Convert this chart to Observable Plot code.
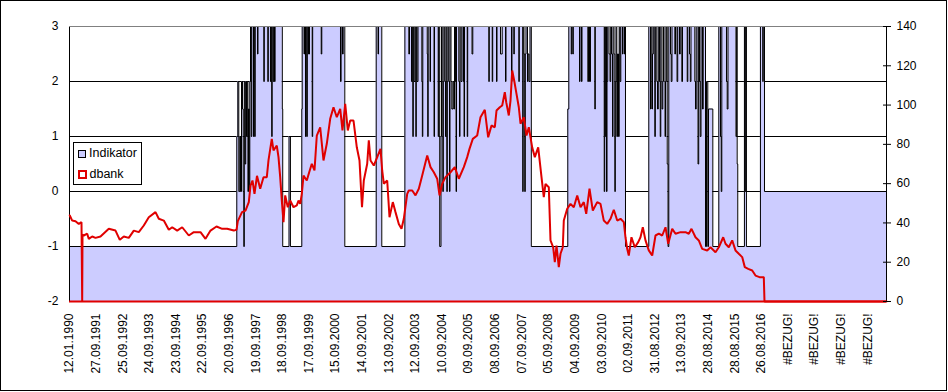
<!DOCTYPE html>
<html>
<head>
<meta charset="utf-8">
<script src="https://cdn.jsdelivr.net/npm/d3@7"></script>
<script src="https://cdn.jsdelivr.net/npm/@observablehq/plot@0.6"></script>
<style>
  body { margin: 0; background: #fff; }
  #wrap { position: relative; width: 948px; height: 392px; overflow: hidden; font-family: "Liberation Sans", Arial, sans-serif; }
  #border { position: absolute; left: 0; top: 0; width: 947px; height: 391px; border: 1px solid #000; box-sizing: border-box; pointer-events: none; }
  #legend { position: absolute; left: 73px; top: 142px; width: 69px; height: 43px; border: 1px solid #000; box-sizing: border-box; background: #fff; font-size: 12.5px; line-height: 1; color: #000; }
  #legend .sw1 { position: absolute; left: 4px; top: 7px; width: 8px; height: 8px; box-sizing: border-box; border: 1px solid #000; background: #ccccff; }
  #legend .sw2 { position: absolute; left: 4px; top: 27px; width: 9px; height: 9px; box-sizing: border-box; border: 2px solid #e00000; background: #fff; }
  #legend .t1 { position: absolute; left: 15px; top: 4px; white-space: nowrap; }
  #legend .t2 { position: absolute; left: 15.5px; top: 25px; white-space: nowrap; }
</style>
</head>
<body>
<div id="wrap">
  <div id="chart"></div>
  <div id="legend"></div>
  <div id="border"></div>
</div>
<script>
// ---- data ----
const xLabels = ["12.01.1990","27.09.1991","25.09.1992","24.09.1993","23.09.1994","22.09.1995","20.09.1996",
  "19.09.1997","18.09.1998","17.09.1999","15.09.2000","14.09.2001","13.09.2002","12.09.2003","10.09.2004",
  "09.09.2005","08.09.2006","07.09.2007","05.09.2008","04.09.2009","03.09.2010","02.09.2011","31.08.2012",
  "13.09.2013","28.08.2014","28.08.2015","26.08.2016","#BEZUG!","#BEZUG!","#BEZUG!","#BEZUG!"];
const xEnd = 30.703; // position of the last category (label units)
const leftTicks = [-2, -1, 0, 1, 2, 3];
const rightTicks = [0, 20, 40, 60, 80, 100, 120, 140];
const seriesNames = ["Indikator", "dbank"];

// Indikator: [position in label units, value] (step series)
const indicatorSteps = [
  [0,-1],
  [6.287,1],[6.325,2],[6.362,0],[6.400,1],[6.426,0],[6.464,2],[6.501,1.5],[6.528,0],[6.550,-1],[6.569,2],[6.595,0.5],[6.622,2],[6.652,1],[6.678,2],[6.704,0],[6.727,1.5],[6.753,0],[6.776,2],[6.802,3],[6.828,1],[6.851,3],[6.915,1],[6.934,3],[6.960,1],[6.979,3],
  [7.065,2.5],[7.084,3],[7.302,2],[7.320,3],[7.452,2],[7.471,3],[7.553,2],[7.572,3],[7.598,1],[7.617,3],[7.655,2],[7.677,3],[7.704,2],[7.727,3],
  [7.998,1.5],[8.013,-1],[8.250,1],[8.303,-1],[8.730,1.5],[8.745,3],
  [8.813,2.5],[8.832,3],[8.869,1],[8.888,3],[8.918,1],[8.937,3],[8.982,2.5],[9.019,3],[9.120,1],[9.139,3],[9.459,2.5],[9.481,3],[10.184,2],[10.207,3],[10.259,2.5],[10.285,3],
  [10.346,-1],[11.526,3],[11.594,2.5],[11.613,3],[11.736,-1],
  [12.604,3],[12.751,2.5],[12.777,3],[12.852,2],[12.879,3],[12.901,1],[12.920,3],[12.946,2],[12.984,3],[13.014,1],[13.033,3],[13.059,2],[13.097,3],[13.240,2],[13.259,1],[13.277,3],[13.443,2.5],[13.461,1],[13.480,3],[13.548,2],[13.567,3],[13.698,1],[13.717,3],[13.855,1],[13.874,3],[13.912,-1],[13.961,1],[13.980,3],
  [14.029,0],[14.048,2],[14.074,3],[14.104,2],[14.130,1],[14.149,3],[14.179,0],[14.198,2],[14.224,3],[14.254,2],[14.281,0],[14.299,3],[14.337,2],[14.367,1.5],[14.412,2],[14.442,1.5],[14.469,3],[14.507,2],[14.526,0],[14.544,3],[14.630,2],[14.657,1],[14.675,3],[14.713,2],[14.751,3],[14.807,2],[14.826,1],[14.845,3],[14.946,1],[14.964,3],
  [15.126,2.5],[15.156,3],[15.757,2],[15.776,3],[15.885,2],[15.904,3],[16.047,2],[16.066,3],[16.197,2.5],[16.261,3],[16.385,2],[16.404,3],[16.610,2],[16.629,3],[16.697,2.5],[16.716,3],[16.885,2],[16.904,3],
  [17.031,0],[17.050,3],[17.080,2.5],[17.107,0],[17.129,2.5],[17.156,3],[17.212,2],[17.231,2.5],[17.268,2],[17.306,3],
  [17.355,-1],
  [18.726,1.5],[18.764,3],[18.854,2.5],[18.873,3],[18.914,2.5],[18.933,3],[19.166,2],[19.185,3],[19.241,2],[19.260,3],[19.478,2],[19.504,3],[19.542,2],[19.579,3],[19.741,1.5],[19.760,3],
  [20.094,0],[20.113,3],[20.136,1],[20.155,3],[20.181,0],[20.200,2],[20.226,3],[20.275,2.5],[20.312,2],[20.339,3],[20.369,2.5],[20.407,1],[20.425,3],[20.463,2.5],[20.493,0],[20.512,2],[20.538,3],[20.568,1],[20.595,2.5],[20.632,1],[20.658,3],[20.688,2],[20.718,3],[20.782,2.5],[20.801,3],[20.857,2.5],[20.876,3],
  [20.894,-1],
  [21.770,3],[21.834,1.5],[21.853,3],[21.891,1.5],[21.909,2.5],[21.939,3],[21.996,1],[22.015,3],[22.071,2],[22.097,1.5],[22.127,3],[22.172,2],[22.199,1],[22.221,3],[22.266,1.5],[22.296,2],[22.323,3],[22.379,1],[22.398,2],[22.428,3],[22.462,0.5],[22.492,-1],[22.522,3],
  [22.586,2.5],[22.612,2],[22.642,3],[22.748,2.5],[22.774,3],[22.830,2],[22.857,3],[22.924,2.5],[22.951,3],[23.011,2],[23.037,3],[23.213,2],[23.236,3],[23.300,2.5],[23.330,2],[23.356,3],[23.499,2],[23.525,1.5],[23.552,3],[23.619,0.5],[23.646,3],[23.676,2],[23.702,1],[23.732,3],[23.788,1.5],[23.815,3],
  [23.901,-1],[23.938,2],[23.987,-1],[24.014,1.5],[24.176,-1],
  [24.401,3],[24.465,1],[24.491,0],[24.514,3],[24.690,2],[24.716,1.5],[24.746,3],[25.046,1],[25.072,3],[25.091,0.5],[25.113,-1],[25.364,3],[25.387,0],[25.413,3],[25.439,-1],
  [25.965,3],[26.052,2],[26.070,3],[26.118,0],[30.703,0]
];

// dbank: [position in label units, value on right axis]
const dbankPoints = [
  [0.011,43.8],[0.101,41.2],[0.225,40.9],[0.349,39.5],[0.451,40.4],[0.477,0],[0.489,34],[0.537,33.6],[0.665,34.5],[0.725,31.9],[0.853,33.1],[0.977,32.4],
  [1.165,33.1],[1.477,37],[1.729,36.1],[1.890,31.4],[2.041,33.1],[2.228,32.4],[2.416,36.1],[2.604,35.3],[2.792,38.7],[2.980,42.9],
  [3.232,45.5],[3.356,42.1],[3.544,41.2],[3.732,36.5],[3.860,37.8],[4.047,36.1],[4.235,37.8],[4.483,33.6],[4.671,35.3],[4.923,35.3],
  [5.111,31.9],[5.299,36.1],[5.524,38.2],[5.738,37],[5.926,37],[6.174,36.1],[6.276,36.5],[6.325,40.9],[6.483,45.5],[6.614,46.3],[6.738,50.6],
  [6.802,59],[6.877,61.6],[6.952,54.8],[7.046,64],[7.166,57.4],[7.291,63.3],[7.415,63.3],[7.478,71.8],[7.602,82.8],[7.666,76.9],[7.790,79.4],
  [7.854,73.5],[7.918,63.3],[7.978,51.4],[8.042,40.4],[8.106,54],[8.203,48],[8.294,51.4],[8.418,48],[8.542,48.9],[8.606,51.4],[8.670,49.7],
  [8.730,54.8],[8.794,64.1],[8.918,61.6],[9.008,65.8],[9.106,70.1],[9.207,66.7],[9.294,84.5],[9.421,88.7],[9.545,71.8],[9.669,80.3],[9.797,93],
  [9.921,98.9],[10.045,93.8],[10.173,98.1],[10.259,87.1],[10.361,100.6],[10.459,87.1],[10.549,92.1],[10.673,92.1],[10.797,78.5],[10.898,71.8],
  [10.992,48],[11.060,61.6],[11.188,70.1],[11.248,82],[11.312,71.8],[11.436,69.2],[11.564,73.5],[11.687,77.7],[11.751,66.7],[11.812,60],[11.939,61.6],
  [12.026,42.9],[12.150,50.6],[12.251,45.5],[12.375,39.5],[12.477,37],[12.563,42.1],[12.691,54.8],[12.751,56.5],[12.879,56.5],[13.003,54],
  [13.127,57.4],[13.255,64.1],[13.443,74.3],[13.567,68.4],[13.691,65.8],[13.818,62.5],[13.905,54],[14.006,59.9],[14.130,63.3],[14.318,65.8],
  [14.480,68.4],[14.630,62.5],[14.818,68.4],[14.946,73.5],[15.032,77.7],[15.156,82.8],[15.321,84.5],[15.445,93.8],[15.607,97.6],[15.734,83.6],
  [15.859,89.6],[15.983,88.7],[16.047,97.2],[16.171,98.9],[16.261,99.8],[16.359,106.6],[16.412,101.5],[16.509,94.7],[16.573,102.3],[16.637,117.6],
  [16.723,111.6],[16.787,106.6],[16.885,98.9],[16.949,90.5],[17.073,93.8],[17.174,84.5],[17.261,88.7],[17.388,78.5],[17.486,73.5],[17.614,78.5],
  [17.738,63.3],[17.824,53.1],[17.888,59.9],[18.012,58.2],[18.076,31.1],[18.177,27.6],[18.238,20],[18.302,28.5],[18.388,17.5],[18.452,24.3],
  [18.538,27.6],[18.576,41.2],[18.704,47.2],[18.828,49.7],[18.952,48],[19.080,54],[19.204,48],[19.327,50.6],[19.418,44.6],[19.542,57.4],
  [19.666,46.3],[19.831,50.6],[19.955,49.7],[20.079,41.2],[20.207,39.5],[20.331,42.1],[20.455,46.7],[20.583,41.2],[20.707,42.1],[20.831,40.4],
  [20.894,32.7],[20.958,26.8],[21.018,23.4],[21.119,32.7],[21.244,27.6],[21.372,30.2],[21.458,32.7],[21.545,37.8],[21.646,31.1],[21.770,26],
  [21.898,23.4],[22.022,33.6],[22.146,34.5],[22.274,33.6],[22.398,37.8],[22.500,29.4],[22.650,37],[22.774,34.5],[22.962,35.3],[23.150,35.3],
  [23.273,34.5],[23.375,37],[23.525,32.7],[23.649,31.1],[23.777,26.8],[23.965,26],[24.089,27.6],[24.277,25.1],[24.401,27.6],[24.566,32.7],
  [24.653,29.4],[24.777,27.6],[24.904,31.1],[25.028,26],[25.152,24.3],[25.280,22.6],[25.378,17.5],[25.506,16.6],[25.656,15.8],[25.780,13.2],
  [25.930,12.4],[26.092,12.4],[26.118,0],[30.703,0]
];

// ---- chart ----
const red = "#e00000";
const blue = "#ccccff";
const indData = indicatorSteps.map(([pos, v]) => ({pos, v}));
const dbData = dbankPoints.map(([pos, v]) => ({pos, v}));
const toLeft = v => v * (leftTicks[leftTicks.length - 1] - leftTicks[0]) / rightTicks[rightTicks.length - 1] + leftTicks[0];
const fromLeft = y => String(Math.round((y - leftTicks[0]) * rightTicks[rightTicks.length - 1] / (leftTicks[leftTicks.length - 1] - leftTicks[0])));
const intFmt = d => String(Math.round(d)); // plain hyphen minus like the original

const chart = Plot.plot({
  width: 948,
  height: 392,
  marginLeft: 69,
  marginRight: 62,
  marginTop: 26,
  marginBottom: 91,
  style: {fontFamily: "'Liberation Sans', Arial, sans-serif", fontSize: "12px", color: "#000", background: "transparent", overflow: "visible"},
  x: {type: "linear", domain: [0, xEnd]},
  y: {domain: [leftTicks[0], leftTicks[leftTicks.length - 1]]},
  marks: [
    Plot.ruleY(leftTicks.slice(1, -1), {stroke: "#000", strokeWidth: 1}),
    Plot.areaY(indData, {x: "pos", y1: leftTicks[0], y2: "v", curve: "step-after", fill: blue}),
    Plot.lineY(indData, {x: "pos", y: "v", curve: "step-after", stroke: "#000", strokeWidth: 1}),
    Plot.frame({stroke: "#000"}),
    Plot.ruleY([leftTicks[leftTicks.length - 1]], {stroke: "#808080"}),
    Plot.ruleY([toLeft(rightTicks[0])], {stroke: red, strokeWidth: 2}),
    Plot.line(dbData, {x: "pos", y: d => toLeft(d.v), stroke: red, strokeWidth: 2, strokeLinejoin: "miter"}),
    Plot.axisY(leftTicks, {anchor: "left", tickSize: 0, tickPadding: 11, tickFormat: intFmt, label: null}),
    Plot.axisY(rightTicks.map(toLeft), {anchor: "right", tickSize: 8, insetRight: 4, tickPadding: 6, tickFormat: fromLeft, label: null}),
    Plot.axisX(xLabels.map((_, i) => i), {tickFormat: i => xLabels[i], tickRotate: -90, tickSize: 0, tickPadding: 12, label: null})
  ]
});
document.getElementById("chart").appendChild(chart);

// legend (inside plot area, as in the original)
const lg = document.getElementById("legend");
lg.innerHTML = `<div class="sw1"></div><div class="t1">${seriesNames[0]}</div><div class="sw2"></div><div class="t2">${seriesNames[1]}</div>`;
</script>
</body>
</html>
